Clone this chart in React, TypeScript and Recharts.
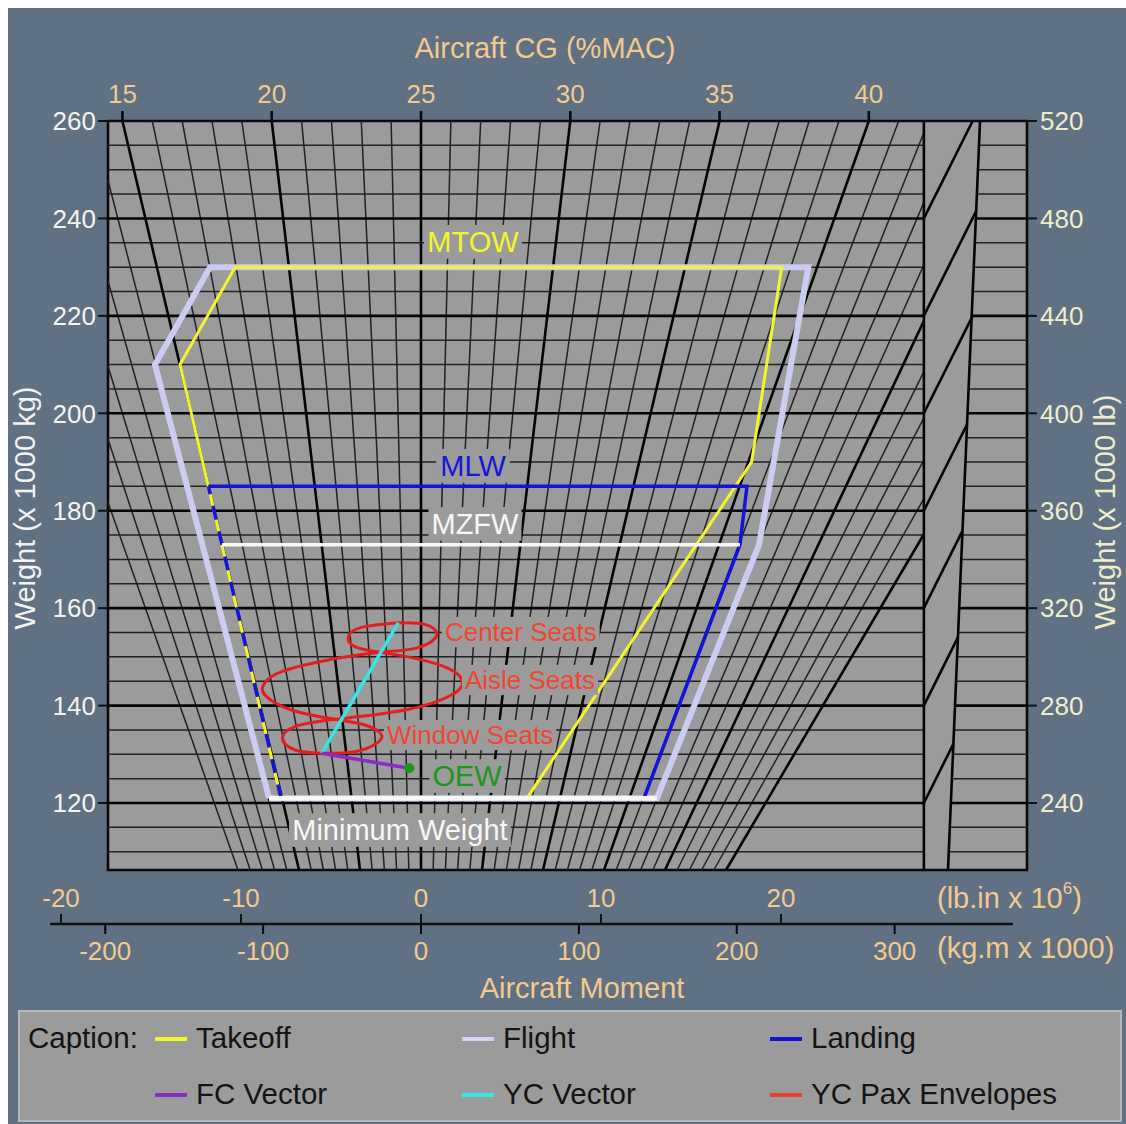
import {
  ComposedChart,
  Line,
  XAxis,
  YAxis,
  ReferenceArea,
  ReferenceLine,
  ReferenceDot,
} from "recharts";

const FONT = '"Liberation Sans", Arial, Helvetica, sans-serif';
const SLATE = "#5f7182";
const PLOT_GRAY = "#9b9b9b";
const PEACH = "#f2c98f";
const CREAM = "#efedcc";
const PALE = "#f3f3f3";

// chart frame: moment in lb.in x 10^6, weight in 1000 kg
const M_MIN = -17.39;
const M_MAX = 33.67;
const W_MIN = 106.25;
const W_MAX = 260;
const W_SCALE_LINE = 95.16; // weight level of the moment scale line under the frame
const BAND_LEFT = 27.94;
const BAND_RIGHT_BOTTOM = 29.28;
const BAND_RIGHT_TOP = 31.06;
const MAC_K = 0.00638; // moment per %MAC per tonne
const KGM_PER_LBIN = 11.4;

const WEIGHT_TICKS = [120, 140, 160, 180, 200, 220, 240, 260];
const WEIGHT_LB_TICKS = [240, 280, 320, 360, 400, 440, 480, 520];
const CG_TICKS = [15, 20, 25, 30, 35, 40];
const MOMENT_TICKS = [-20, -10, 0, 10, 20];
const MOMENT_KGM_TICKS = [-200, -100, 0, 100, 200, 300];

const CG_GRID = Array.from({ length: 41 }, (_, i) => 10 + i);
const WEIGHT_GRID = Array.from({ length: 30 }, (_, i) => 110 + i * 5);

// slanted marks inside the break band: [m1, w1, m2, w2]
const BAND_DIAGONALS = [
  [27.94, 120, 29.59, 132.2],
  [27.94, 140, 29.83, 154.0],
  [27.94, 160, 30.09, 175.9],
  [27.94, 180, 30.35, 197.8],
  [27.94, 200, 30.61, 219.7],
  [27.94, 220, 30.86, 241.6],
  [27.94, 240, 30.65, 260],
];

// envelopes: [moment, weight]
const FLIGHT = [
  [-8.44, 121], [-14.78, 210], [-11.72, 230], [21.52, 230],
  [18.78, 173], [13.11, 121], [-8.44, 121],
];
const TAKEOFF = [
  [-7.78, 121], [-13.39, 210], [-10.33, 230], [20.04, 230],
  [18.37, 190], [5.89, 121], [-7.78, 121],
];
const LANDING = [
  [-11.81, 185], [18.11, 185], [17.72, 173], [12.39, 121], [-7.78, 121],
];
const LANDING_FWD = [[-7.78, 121], [-11.81, 185]];
const MZFW_LINE = [[-11.06, 173], [17.72, 173]];
const MIN_WEIGHT_LINE = [[-8.44, 121], [13.11, 121]];

const OEW = [-0.65, 127.12];
const FC_VECTOR = [[-0.65, 127.12], [-5.52, 130.2]];
const YC_VECTOR = [[-5.52, 130.2], [-1.26, 157.02]];

// economy seat loading, front-to-back and back-to-front
const PAX_FWD_AFT = [
  [-5.52, 130.2], [-7.0, 130.88], [-7.7, 133.28], [-7.0, 135.67],
  [-4.78, 137.18], [-0.89, 139.09], [1.7, 142.17], [2.3, 144.91],
  [1.52, 147.65], [-0.52, 149.84], [-2.28, 150.93], [-3.67, 152.09],
  [-4.04, 154.15], [-3.3, 156.06], [-1.26, 157.02],
];
const PAX_AFT_FWD = [
  [-5.52, 130.2], [-3.67, 130.54], [-2.46, 132.25], [-2.22, 134.17],
  [-3.11, 136.01], [-4.78, 137.18], [-7.19, 139.09], [-8.67, 142.17],
  [-8.7, 144.57], [-7.74, 146.96], [-5.15, 149.36], [-2.28, 150.93],
  [-0.33, 151.75], [0.78, 153.81], [0.69, 155.86], [-0.15, 156.89],
  [-1.26, 157.02],
];

const ENVELOPE_LABELS = [
  { text: "MTOW", m: 2.89, w: 235.2, color: "#f4f42a" },
  { text: "MLW", m: 2.89, w: 189.2, color: "#1616d8" },
  { text: "MZFW", m: 3.0, w: 177.3, color: "#f7f7f7" },
  { text: "Minimum Weight", m: -1.17, w: 114.46, color: "#f7f7f7" },
  { text: "OEW", m: 2.56, w: 125.54, color: "#179a17" },
];
const SEAT_LABELS = [
  { text: "Center Seats", m: 1.33, w: 155.1 },
  { text: "Aisle Seats", m: 2.44, w: 145.25 },
  { text: "Window Seats", m: -1.89, w: 133.96 },
];

const LEGEND_ITEMS = [
  { label: "Takeoff", color: "#f4f42a" },
  { label: "Flight", color: "#d4d4f6" },
  { label: "Landing", color: "#1414d8" },
  { label: "FC Vector", color: "#8c2bc8" },
  { label: "YC Vector", color: "#34e6e6" },
  { label: "YC Pax Envelopes", color: "#e8402c" },
];

// approximate advance widths (em) for the sans face used on the labels
const GLYPH_EM: Record<string, number> = {
  " ": 0.278, i: 0.222, l: 0.222, t: 0.278, r: 0.333, f: 0.278, s: 0.5,
  m: 0.833, w: 0.722, C: 0.722, S: 0.667, A: 0.667, W: 0.944, M: 0.833,
  T: 0.611, O: 0.778, L: 0.556, Z: 0.611, F: 0.611, E: 0.667,
};

const toPoints = (pairs: number[][]) => pairs.map(([m, w]) => ({ m, w }));

const bandRightAt = (w: number) =>
  BAND_RIGHT_BOTTOM +
  ((BAND_RIGHT_TOP - BAND_RIGHT_BOTTOM) * (w - W_MIN)) / (W_MAX - W_MIN);

function gridSeg(key: string, a: number[], b: number[], thick: boolean) {
  return (
    <ReferenceLine
      key={key}
      xAxisId="main"
      yAxisId="kg"
      segment={[
        { x: a[0], y: a[1] },
        { x: b[0], y: b[1] },
      ]}
      stroke={thick ? "#050505" : "#222222"}
      strokeWidth={thick ? 2.6 : 1.5}
      ifOverflow="visible"
    />
  );
}

function fanLine(cg: number, thick: boolean) {
  const a = MAC_K * (cg - 25);
  let top = W_MAX;
  if (a > 0) top = Math.min(top, BAND_LEFT / a);
  if (a < 0) top = Math.min(top, M_MIN / a);
  if (top <= W_MIN) return null;
  return gridSeg(`cg-${cg}`, [a * W_MIN, W_MIN], [a * top, top], thick);
}

const isMajorCg = (c: number) => c >= 15 && c % 5 === 0;

function weightLines(w: number, thick: boolean) {
  return [
    gridSeg(`wl-${w}`, [M_MIN, w], [BAND_LEFT, w], thick),
    gridSeg(`wr-${w}`, [bandRightAt(w), w], [M_MAX, w], thick),
  ];
}

function trace(
  key: string,
  pairs: number[][],
  color: string,
  width: number,
  extra: { dash?: string; curve?: "linear" | "natural" } = {}
) {
  return (
    <Line
      key={key}
      xAxisId="main"
      yAxisId="kg"
      data={toPoints(pairs)}
      dataKey="w"
      type={extra.curve ?? "linear"}
      stroke={color}
      strokeWidth={width}
      strokeDasharray={extra.dash}
      strokeLinejoin="miter"
      dot={false}
      activeDot={false}
      legendType="none"
      isAnimationActive={false}
    />
  );
}

function textWidth(text: string, size: number) {
  let w = 0;
  for (const ch of text) w += GLYPH_EM[ch] ?? 0.556;
  return w * size;
}

function boxedText(text: string, color: string, size: number, anchor: "middle" | "start") {
  return (props: any) => {
    const { cx, cy } = props;
    const w = textWidth(text, size);
    const left = anchor === "start" ? cx : cx - w / 2;
    return (
      <g>
        <rect x={left - 3} y={cy - size * 0.58} width={w + 6} height={size * 1.16} fill={PLOT_GRAY} />
        <text
          x={cx}
          y={cy}
          textAnchor={anchor}
          dominantBaseline="central"
          fill={color}
          fontSize={size}
          fontFamily={FONT}
        >
          {text}
        </text>
      </g>
    );
  };
}

// tick mark + label drawn around a point of the frame, dir -1 = above, 1 = below
function scaleTick(label: number, dir: number) {
  return (props: any) => {
    const { cx, cy } = props;
    return (
      <g>
        <line x1={cx} x2={cx} y1={cy} y2={cy + dir * 10} stroke="#080808" strokeWidth={dir < 0 ? 2.6 : 2} />
        <text
          x={cx}
          y={cy + dir * 27}
          textAnchor="middle"
          dominantBaseline="central"
          fill={PEACH}
          fontSize={26}
          fontFamily={FONT}
        >
          {label}
        </text>
      </g>
    );
  };
}

function MomentTick({ x, y, payload }: any) {
  return (
    <g>
      <line x1={x} x2={x} y1={y + 44} y2={y + 54} stroke="#111" strokeWidth={2} />
      <text
        x={x}
        y={y + 28}
        textAnchor="middle"
        dominantBaseline="central"
        fill={PEACH}
        fontSize={26}
        fontFamily={FONT}
      >
        {payload.value}
      </text>
    </g>
  );
}

function CaptionBox() {
  const cols = [135, 442, 750];
  const rows = [27, 83];
  return (
    <div
      style={{
        position: "absolute",
        left: 10,
        top: 1002,
        width: 1104,
        height: 112,
        boxSizing: "border-box",
        background: PLOT_GRAY,
        border: "2px solid #b6b6b6",
        fontFamily: FONT,
        fontSize: 29.5,
        color: "#141414",
      }}
    >
      <div style={{ position: "absolute", left: 8, top: rows[0] - 18, lineHeight: "34px" }}>
        Caption:
      </div>
      {LEGEND_ITEMS.map((item, i) => {
        const x = cols[i % 3];
        const y = rows[Math.floor(i / 3)];
        return (
          <div key={item.label}>
            <div
              style={{
                position: "absolute",
                left: x,
                top: y - 2,
                width: 32,
                height: 4,
                background: item.color,
              }}
            />
            <div
              style={{
                position: "absolute",
                left: x + 41,
                top: y - 18,
                lineHeight: "34px",
                whiteSpace: "nowrap",
              }}
            >
              {item.label}
            </div>
          </div>
        );
      })}
    </div>
  );
}

export default function App() {
  const tickFont = { fontSize: 26, fontFamily: FONT };
  return (
    <div
      style={{
        position: "fixed",
        left: 8,
        top: 8,
        width: 1118,
        height: 1116,
        background: SLATE,
        overflow: "hidden",
      }}
    >
      <ComposedChart width={1118} height={1116} margin={{ top: 113, right: 29, bottom: 150, left: 30 }}>
        <XAxis
          xAxisId="main"
          dataKey="m"
          type="number"
          domain={[M_MIN, M_MAX]}
          allowDataOverflow
          ticks={MOMENT_TICKS}
          interval={0}
          height={104}
          axisLine={false}
          tickLine={false}
          tickSize={0}
          tickMargin={0}
          tick={<MomentTick />}
          label={{
            content: () => (
              <g fontFamily={FONT} fontSize={29} fill={PEACH}>
                <text x={537} y={40} textAnchor="middle" dominantBaseline="central">
                  Aircraft CG (%MAC)
                </text>
                <text x={929} y={890} dominantBaseline="central">
                  (lb.in x 10
                  <tspan dy={-10} fontSize={17}>6</tspan>
                  <tspan dy={10}>)</tspan>
                </text>
                <text x={929} y={940} dominantBaseline="central">
                  (kg.m x 1000)
                </text>
                <text x={574} y={980} textAnchor="middle" dominantBaseline="central">
                  Aircraft Moment
                </text>
              </g>
            ),
          }}
        />
        <YAxis
          yAxisId="kg"
          type="number"
          domain={[W_MIN, W_MAX]}
          allowDataOverflow
          ticks={WEIGHT_TICKS}
          interval={0}
          width={70}
          axisLine={false}
          tickLine={{ stroke: "#111", strokeWidth: 2 }}
          tickSize={10}
          tickMargin={2}
          tick={{ ...tickFont, fill: PALE }}
          label={{
            content: () => (
              <text
                x={17}
                y={500}
                transform="rotate(-90 17 500)"
                textAnchor="middle"
                dominantBaseline="central"
                fill={PALE}
                fontSize={29}
                fontFamily={FONT}
              >
                Weight (x 1000 kg)
              </text>
            ),
          }}
        />
        <YAxis
          yAxisId="lb"
          orientation="right"
          type="number"
          domain={[W_MIN * 2, W_MAX * 2]}
          allowDataOverflow
          ticks={WEIGHT_LB_TICKS}
          interval={0}
          width={70}
          axisLine={false}
          tickLine={{ stroke: "#111", strokeWidth: 2 }}
          tickSize={10}
          tickMargin={3}
          tick={{ ...tickFont, fill: CREAM }}
          label={{
            content: () => (
              <text
                x={1097}
                y={504}
                transform="rotate(-90 1097 504)"
                textAnchor="middle"
                dominantBaseline="central"
                fill={CREAM}
                fontSize={29}
                fontFamily={FONT}
              >
                Weight (x 1000 lb)
              </text>
            ),
          }}
        />

        <ReferenceArea
          xAxisId="main"
          yAxisId="kg"
          x1={M_MIN}
          x2={M_MAX}
          y1={W_MIN}
          y2={W_MAX}
          fill={PLOT_GRAY}
          fillOpacity={1}
          stroke="none"
          ifOverflow="visible"
        />

        {/* thin grid */}
        {WEIGHT_GRID.filter((w) => w % 20 !== 0).flatMap((w) => weightLines(w, false))}
        {CG_GRID.filter((c) => !isMajorCg(c)).map((c) => fanLine(c, false))}
        {/* heavy grid */}
        {WEIGHT_GRID.filter((w) => w % 20 === 0).flatMap((w) => weightLines(w, true))}
        {CG_GRID.filter(isMajorCg).map((c) => fanLine(c, true))}
        {gridSeg("band-l", [BAND_LEFT, W_MIN], [BAND_LEFT, W_MAX], true)}
        {gridSeg("band-r", [BAND_RIGHT_BOTTOM, W_MIN], [BAND_RIGHT_TOP, W_MAX], true)}
        {BAND_DIAGONALS.map((d, i) => gridSeg(`diag-${i}`, [d[0], d[1]], [d[2], d[3]], true))}

        {/* frame and the moment scale line */}
        <ReferenceArea
          xAxisId="main"
          yAxisId="kg"
          x1={M_MIN}
          x2={M_MAX}
          y1={W_MIN}
          y2={W_MAX}
          fill="none"
          fillOpacity={0}
          stroke="#0a0a0a"
          strokeWidth={2.6}
          ifOverflow="visible"
        />
        <ReferenceLine
          xAxisId="main"
          yAxisId="kg"
          segment={[
            { x: -20.61, y: W_SCALE_LINE },
            { x: 32.89, y: W_SCALE_LINE },
          ]}
          stroke="#111"
          strokeWidth={2.6}
          ifOverflow="visible"
        />

        {/* %MAC scale along the top edge */}
        {CG_TICKS.map((c) => (
          <ReferenceDot
            key={`cgt-${c}`}
            xAxisId="main"
            yAxisId="kg"
            x={MAC_K * (c - 25) * W_MAX}
            y={W_MAX}
            r={1}
            ifOverflow="visible"
            shape={scaleTick(c, -1)}
          />
        ))}
        {/* kg.m scale under the moment line */}
        {MOMENT_KGM_TICKS.map((v) => (
          <ReferenceDot
            key={`kgm-${v}`}
            xAxisId="main"
            yAxisId="kg"
            x={v / KGM_PER_LBIN}
            y={W_SCALE_LINE}
            r={1}
            ifOverflow="visible"
            shape={scaleTick(v, 1)}
          />
        ))}

        {ENVELOPE_LABELS.map((l) => (
          <ReferenceDot
            key={l.text}
            xAxisId="main"
            yAxisId="kg"
            x={l.m}
            y={l.w}
            r={1}
            ifOverflow="visible"
            shape={boxedText(l.text, l.color, 29, "middle")}
          />
        ))}
        {SEAT_LABELS.map((l) => (
          <ReferenceDot
            key={l.text}
            xAxisId="main"
            yAxisId="kg"
            x={l.m}
            y={l.w}
            r={1}
            ifOverflow="visible"
            shape={boxedText(l.text, "#f2452f", 26, "start")}
          />
        ))}

        {trace("flight", FLIGHT, "#ccccf2", 6)}
        {trace("takeoff", TAKEOFF, "#f4f42a", 3)}
        {trace("landing", LANDING, "#1414d8", 3.5)}
        {trace("landing-fwd", LANDING_FWD, "#1414d8", 3.5, { dash: "14 12" })}
        {trace("mzfw", MZFW_LINE, "#f7f7f7", 3.5)}
        {trace("min-weight", MIN_WEIGHT_LINE, "#f7f7f7", 4.5)}
        {trace("pax-a", PAX_FWD_AFT, "#e41e1e", 3, { curve: "natural" })}
        {trace("pax-b", PAX_AFT_FWD, "#e41e1e", 3, { curve: "natural" })}
        {trace("yc", YC_VECTOR, "#34e6e6", 3.5)}
        {trace("fc", FC_VECTOR, "#8c2bc8", 3.5)}

        <ReferenceDot
          xAxisId="main"
          yAxisId="kg"
          x={OEW[0]}
          y={OEW[1]}
          r={5}
          fill="#179a17"
          stroke="none"
          ifOverflow="visible"
        />
      </ComposedChart>
      <CaptionBox />
    </div>
  );
}
